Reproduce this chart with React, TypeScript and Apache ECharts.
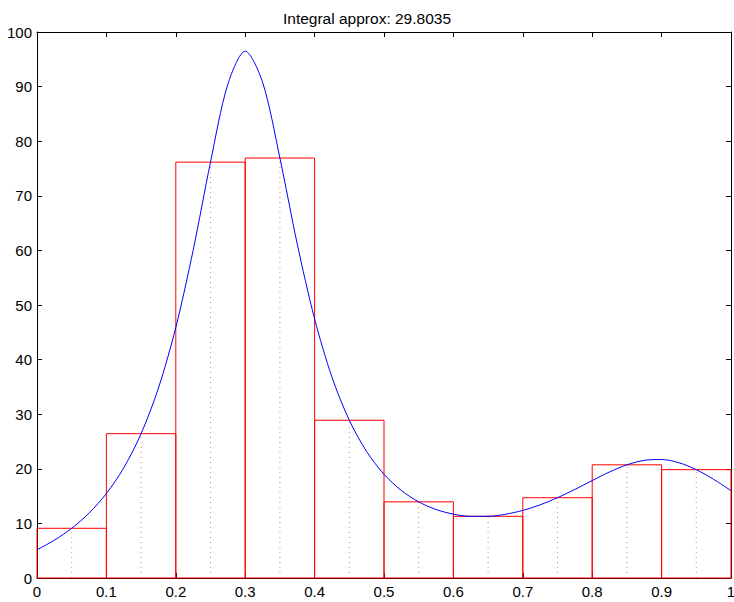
import React, { useEffect, useRef } from "react";
import * as echarts from "echarts";

const titleText = "Integral approx: 29.8035";
const binStarts = [0, 0.1, 0.2, 0.3, 0.4, 0.5, 0.6, 0.7, 0.8, 0.9];
const binEnds = [0.1, 0.2, 0.3, 0.4, 0.5, 0.6, 0.7, 0.8, 0.9, 1.0];
const binMids = [0.05, 0.15, 0.25, 0.35, 0.45, 0.55, 0.65, 0.75, 0.85, 0.95];
const binValues = [9.104, 26.43, 76.16, 76.92, 28.89, 13.947, 11.30, 14.706, 20.73, 19.84];

const curveX = [
  0, 0.025, 0.05, 0.075, 0.1, 0.125, 0.15, 0.175, 0.2, 0.225, 0.25, 0.275, 0.3, 0.325, 0.35, 0.375,
  0.4, 0.425, 0.45, 0.475, 0.5, 0.525, 0.55, 0.575, 0.6, 0.625, 0.65, 0.675, 0.7, 0.725, 0.75, 0.775,
  0.8, 0.825, 0.85, 0.875, 0.9, 0.925, 0.95, 0.975, 1.0,
];
const curveY = [
  5.176, 6.92, 9.104, 11.883, 15.471, 20.176, 26.43, 34.792, 45.887, 60.018, 76.16, 90.44, 96.5,
  90.816, 76.92, 61.168, 47.448, 36.789, 28.89, 23.148, 19.0, 16.031, 13.947, 12.546, 11.692, 11.297,
  11.3, 11.673, 12.382, 13.405, 14.706, 16.222, 17.846, 19.419, 20.73, 21.551, 21.703, 21.111, 19.84,
  18.066, 16.0,
];

const xTickLabels = ["0", "0.1", "0.2", "0.3", "0.4", "0.5", "0.6", "0.7", "0.8", "0.9", "1"];
const yTickLabels = ["0", "10", "20", "30", "40", "50", "60", "70", "80", "90", "100"];

const FONT = "'Liberation Sans', Arial, Helvetica, sans-serif";

export default function App() {
  const ref = useRef<HTMLDivElement>(null);
  useEffect(() => {
    document.body.style.margin = "0";
    const chart = echarts.init(ref.current!, null, { renderer: "svg" });
    const axisCommon = {
      type: "value" as const,
      min: 0,
      axisLine: { show: true, onZero: false, lineStyle: { color: "#000", width: 1 } },
      axisTick: { show: true, inside: true, length: 5, lineStyle: { color: "#000" } },
      splitLine: { show: false },
    };
    const barData = binValues.map((v, i) => [binStarts[i], binEnds[i], binMids[i], v]);
    chart.setOption({
      animation: false,
      backgroundColor: "#fff",
      title: {
        text: titleText,
        left: "center",
        top: 5,
        textStyle: { fontFamily: FONT, fontSize: 15.5, fontWeight: "normal", color: "#000" },
      },
      grid: { left: 37, top: 32, right: 3, bottom: 24, containLabel: false, outerBoundsMode: "none" },
      xAxis: [
        {
          ...axisCommon,
          max: 1,
          interval: 0.1,
          position: "bottom",
          axisLabel: {
            fontFamily: FONT,
            fontSize: 15,
            color: "#000",
            margin: 6,
            formatter: (v: number) => xTickLabels[Math.round(v * 10)] ?? "",
          },
        },
        {
          ...axisCommon,
          max: 1,
          interval: 0.1,
          position: "top",
          axisLabel: { show: false },
        },
      ],
      yAxis: [
        {
          ...axisCommon,
          max: 100,
          interval: 10,
          position: "left",
          axisLabel: {
            fontFamily: FONT,
            fontSize: 15,
            color: "#000",
            margin: 5,
            formatter: (v: number) => yTickLabels[Math.round(v / 10)] ?? "",
          },
        },
        {
          ...axisCommon,
          max: 100,
          interval: 10,
          position: "right",
          axisLabel: { show: false },
        },
      ],
      series: [
        {
          type: "custom",
          xAxisIndex: 0,
          yAxisIndex: 0,
          data: barData,
          clip: false,
          renderItem: (params: any, api: any) => {
            const x0 = api.value(0);
            const x1 = api.value(1);
            const xm = api.value(2);
            const v = api.value(3);
            const p0 = api.coord([x0, 0]);
            const p1 = api.coord([x1, v]);
            const pm0 = api.coord([xm, 0]);
            const pm1 = api.coord([xm, v]);
            return {
              type: "group",
              children: [
                {
                  type: "line",
                  shape: { x1: pm0[0], y1: pm0[1], x2: pm1[0], y2: pm1[1] },
                  style: { stroke: "rgba(255,0,0,0.55)", lineWidth: 1, lineDash: [1, 4] },
                },
                {
                  type: "rect",
                  shape: { x: p0[0], y: p1[1], width: p1[0] - p0[0], height: p0[1] - p1[1] },
                  style: { fill: "none", stroke: "#ff0000", lineWidth: 1 },
                },
              ],
            };
          },
        },
        {
          type: "line",
          xAxisIndex: 0,
          yAxisIndex: 0,
          data: curveX.map((x, i) => [x, curveY[i]]),
          smooth: 0.3,
          showSymbol: false,
          symbol: "none",
          lineStyle: { color: "#0000ff", width: 1 },
          z: 5,
        },
      ],
    });
    return () => chart.dispose();
  }, []);
  return <div ref={ref} style={{ width: 734, height: 602 }} />;
}
